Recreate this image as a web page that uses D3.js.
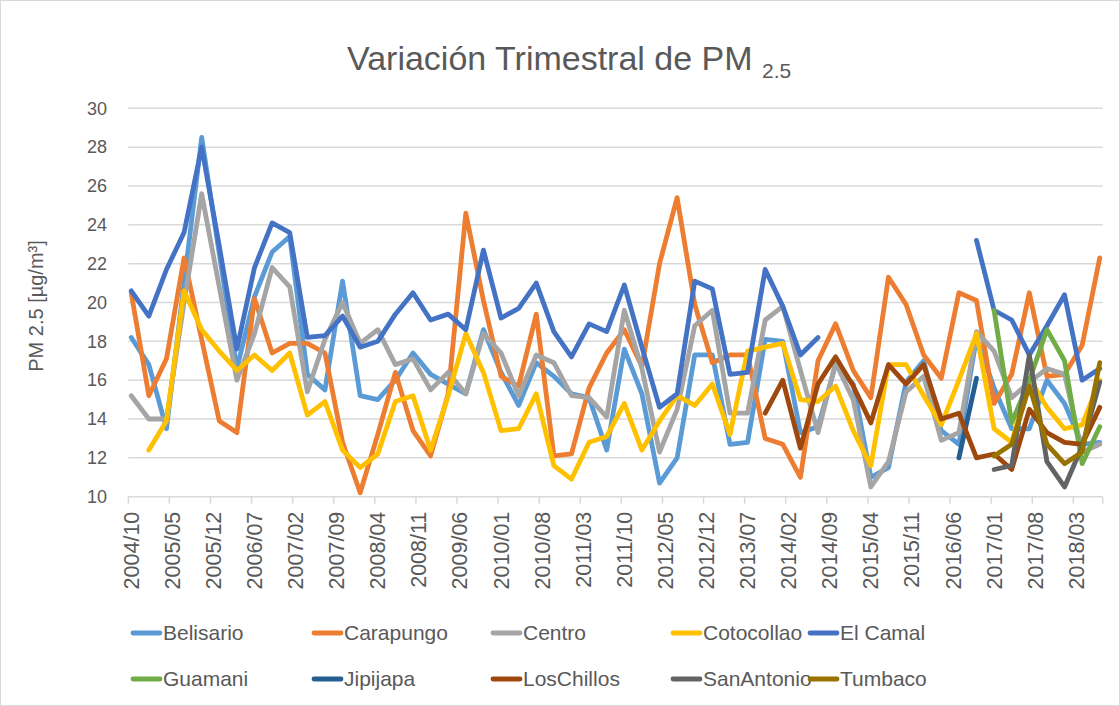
<!DOCTYPE html>
<html>
<head>
<meta charset="utf-8">
<script src="https://cdn.jsdelivr.net/npm/d3@7"></script>
<style>
  body { margin: 0; background: #fff; }
  svg text { font-family: "Liberation Sans", Arial, sans-serif; fill: #595959; }
</style>
</head>
<body>
<svg id="chart" width="1120" height="706"></svg>
<script>
// quarterly series, first point = 2004/10, one value every 3 months (null = no data)
const firstMonth = { year: 2004, month: 10 };
const nQuarters = 56;

const belisario = [18.2, 16.8, 13.5, 21.0, 28.5, 22.5, 16.6, 20.3, 22.6, 23.4, 16.3, 15.5, 21.1, 15.2, 15.0, 16.0, 17.4, 16.3, 15.8, 15.3,
  18.6, 16.4, 14.7, 16.9, 16.2, 15.3, 15.1, 12.4, 17.6, 15.3, 10.7, 12.0, 17.3, 17.3, 12.7, 12.8, 18.1, 18.0, 13.3, 13.6,
  16.8, 15.8, 11.0, 11.5, 15.9, 17.0, 13.4, 12.7, 18.2, 15.6, 13.5, 13.5, 16.0, 14.8, 12.7, 12.8];
const carapungo = [20.5, 15.2, 17.1, 22.3, 18.1, 13.9, 13.3, 20.2, 17.4, 17.9, 17.9, 17.4, 12.8, 10.2, 13.2, 16.4, 13.4, 12.1, 15.3, 24.6,
  20.1, 16.2, 15.7, 19.4, 12.1, 12.2, 15.6, 17.4, 18.6, 16.7, 22.0, 25.4, 19.9, 16.9, 17.3, 17.3, 13.0, 12.7, 11.0, 17.0,
  18.9, 16.5, 15.1, 21.3, 19.9, 17.3, 16.1, 20.5, 20.1, 14.8, 16.3, 20.5, 16.2, 16.3, 17.8, 22.3];
const centro = [15.2, 14.0, 14.0, 20.0, 25.6, 20.8, 16.0, 18.4, 21.8, 20.8, 15.4, 18.1, 20.0, 17.9, 18.6, 16.8, 17.1, 15.5, 16.4, 15.3,
  18.4, 17.4, 15.2, 17.3, 16.9, 15.2, 15.1, 14.1, 19.6, 16.6, 12.3, 14.5, 18.8, 19.6, 14.3, 14.3, 19.1, 19.8, 16.5, 13.3,
  16.9, 15.0, 10.5, 11.8, 15.4, 16.2, 12.9, 13.3, 18.5, 17.5, 15.1, 15.9, 16.6, 16.3, 12.3, 12.7];
const cotocollao = [null, 12.4, 13.9, 20.6, 18.6, 17.5, 16.5, 17.3, 16.5, 17.4, 14.2, 14.9, 12.4, 11.5, 12.2, 14.9, 15.2, 12.4, 15.2, 18.4,
  16.4, 13.4, 13.5, 15.3, 11.6, 10.9, 12.8, 13.1, 14.8, 12.4, 13.9, 15.2, 14.7, 15.8, 13.2, 17.5, 17.7, 17.9, 15.0, 14.9,
  15.7, 13.4, 11.6, 16.8, 16.8, 15.2, 13.7, 16.0, 18.4, 13.5, 12.8, 16.1, 14.6, 13.5, 13.7, 16.0];
const elCamal = [20.6, 19.3, 21.7, 23.6, 28.0, 22.9, 17.6, 21.8, 24.1, 23.6, 18.2, 18.3, 19.3, 17.7, 18.0, 19.4, 20.5, 19.1, 19.4, 18.6,
  22.7, 19.2, 19.7, 21.0, 18.5, 17.2, 18.9, 18.5, 20.9, 17.7, 14.6, 15.3, 21.1, 20.7, 16.3, 16.4, 21.7, 19.8, 17.3, 18.2,
  null, null, null, null, null, null, null, null, 23.2, 19.6, 19.1, 17.3, 18.8, 20.4, 16.0, 16.6];
// shorter series: values start at the quarter index given next to them
const guamani = [19.6, 13.8, 16.0, 18.6, 17.0, 11.7, 13.6];          // from index 49
const jipijapa = [12.0, 16.1];                                        // from index 47
const losChillos = [14.3, 16.0, 12.5, 15.8, 17.2, 15.7, 13.8, 16.8, 15.8, 16.8, 14.0, 14.3, 12.0, 12.2, 11.4, 14.5, 13.3, 12.8, 12.7, 14.6]; // from 36
const sanAntonio = [11.4, 11.6, 17.3, 11.8, 10.5, 12.6, 15.9];       // from index 49
const tumbaco = [12.1, 12.7, 15.7, 12.7, 11.7, 12.3, 16.9];          // from index 49

const tickLabels = ["2004/10", "2005/05", "2005/12", "2006/07", "2007/02", "2007/09", "2008/04", "2008/11",
  "2009/06", "2010/01", "2010/08", "2011/03", "2011/10", "2012/05", "2012/12", "2013/07", "2014/02", "2014/09",
  "2015/04", "2015/11", "2016/06", "2017/01", "2017/08", "2018/03"];
const tickStepMonths = 7;
const yTicks = [10, 12, 14, 16, 18, 20, 22, 24, 26, 28, 30];

const series = [
  { name: "Belisario", color: "#5B9BD5", start: 0, values: belisario },
  { name: "Carapungo", color: "#ED7D31", start: 0, values: carapungo },
  { name: "Centro", color: "#A5A5A5", start: 0, values: centro },
  { name: "Cotocollao", color: "#FFC000", start: 0, values: cotocollao },
  { name: "El Camal", color: "#4472C4", start: 0, values: elCamal },
  { name: "Guamani", color: "#70AD47", start: 49, values: guamani },
  { name: "Jipijapa", color: "#255E91", start: 47, values: jipijapa },
  { name: "LosChillos", color: "#9E480E", start: 36, values: losChillos },
  { name: "SanAntonio", color: "#636363", start: 49, values: sanAntonio },
  { name: "Tumbaco", color: "#997300", start: 49, values: tumbaco }
];

const svg = d3.select("#chart");
const W = 1120, H = 706;
const plot = { left: 128.3, right: 1102.7, top: 108.3, bottom: 496.7 };
const totalMonths = (nQuarters - 1) * 3 + 1;

svg.append("rect")
  .attr("x", 0.5).attr("y", 0.5).attr("width", W - 1).attr("height", H - 1)
  .attr("fill", "#fff").attr("stroke", "#D9D9D9");

// month axis: each month is a slot, points sit in the middle of their slot
const x = d3.scaleLinear().domain([0, totalMonths]).range([plot.left, plot.right]);
const y = d3.scaleLinear().domain([10, 30]).range([plot.bottom, plot.top]);

// gridlines
svg.append("g")
  .selectAll("line")
  .data(yTicks)
  .join("line")
    .attr("x1", plot.left).attr("x2", plot.right)
    .attr("y1", d => y(d)).attr("y2", d => y(d))
    .attr("stroke", "#D9D9D9").attr("stroke-width", 1.5);

// y axis labels
svg.append("g")
  .selectAll("text")
  .data(yTicks)
  .join("text")
    .attr("x", 107).attr("y", d => y(d))
    .attr("dy", "0.35em")
    .attr("text-anchor", "end")
    .style("font-size", "18px")
    .text(d => d);

// x axis ticks + rotated labels
const xAxis = svg.append("g");
xAxis.selectAll("line")
  .data(tickLabels)
  .join("line")
    .attr("x1", (d, i) => x(i * tickStepMonths)).attr("x2", (d, i) => x(i * tickStepMonths))
    .attr("y1", plot.bottom).attr("y2", plot.bottom + 7)
    .attr("stroke", "#D9D9D9").attr("stroke-width", 1.5);
xAxis.append("line")
  .attr("x1", plot.right).attr("x2", plot.right)
  .attr("y1", plot.bottom).attr("y2", plot.bottom + 7)
  .attr("stroke", "#D9D9D9").attr("stroke-width", 1.5);
xAxis.selectAll("text")
  .data(tickLabels)
  .join("text")
    .attr("transform", (d, i) => `translate(${x(i * tickStepMonths + 0.5)},${plot.bottom + 15}) rotate(-90)`)
    .attr("dy", "0.35em")
    .attr("text-anchor", "end")
    .style("font-size", "21.5px")
    .text(d => d);

// lines
const line = d3.line()
  .defined(d => d.v != null)
  .x(d => x(d.q * 3 + 0.5))
  .y(d => y(d.v));

svg.append("g")
  .selectAll("path")
  .data(series)
  .join("path")
    .attr("fill", "none")
    .attr("stroke", s => s.color)
    .attr("stroke-width", 4.8)
    .attr("stroke-linejoin", "round")
    .attr("stroke-linecap", "round")
    .attr("d", s => line(s.values.map((v, i) => ({ q: s.start + i, v }))));

// title
const title = svg.append("text")
  .attr("x", 347).attr("y", 70)
  .style("font-size", "34px");
title.append("tspan").text("Variación Trimestral de PM ");
title.append("tspan").attr("dy", 8).style("font-size", "21px").text("2.5");

// y axis title
svg.append("text")
  .attr("transform", `translate(36,306) rotate(-90)`)
  .attr("text-anchor", "middle")
  .attr("dy", "0.35em")
  .style("font-size", "20px")
  .text("PM 2.5 [µg/m³]");

// legend
const legendCols = [133, 314, 493, 673, 810];
const legendRows = [633, 679];
const legend = svg.append("g")
  .selectAll("g")
  .data(series)
  .join("g")
    .attr("transform", (d, i) => `translate(${legendCols[i % 5]},${legendRows[Math.floor(i / 5)]})`);
legend.append("line")
  .attr("x1", 0).attr("x2", 27)
  .attr("stroke", d => d.color).attr("stroke-width", 4.8)
  .attr("stroke-linecap", "round");
legend.append("text")
  .attr("x", 30).attr("dy", "0.35em")
  .style("font-size", "21px")
  .text(d => d.name);
</script>
</body>
</html>
